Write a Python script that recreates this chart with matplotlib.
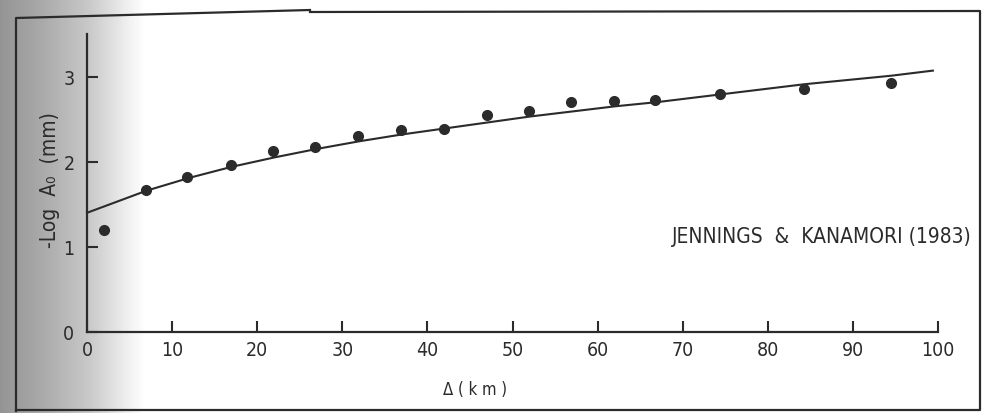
import numpy as np
import matplotlib
matplotlib.use("Agg")
import matplotlib.pyplot as plt

# ---- data ----
dist_points = [2.0, 6.9, 11.8, 16.9, 21.8, 26.8, 31.9, 36.9, 42.0, 47.0,
               51.9, 56.9, 61.9, 66.7, 74.4, 84.3, 94.5]
logA0_points = [1.20, 1.67, 1.82, 1.96, 2.12, 2.17, 2.30, 2.37, 2.39, 2.55,
                2.60, 2.70, 2.71, 2.72, 2.79, 2.85, 2.93]

curve_dist = [0, 7, 12, 17, 22, 27, 32, 37, 42, 47, 52, 57, 62, 67,
              74.4, 84.3, 94.5, 99.4]
curve_logA0 = [1.40, 1.66, 1.81, 1.94, 2.05, 2.15, 2.24, 2.32, 2.39,
               2.46, 2.53, 2.59, 2.65, 2.70, 2.79, 2.91, 3.01, 3.07]

x_ticks = [0, 10, 20, 30, 40, 50, 60, 70, 80, 90, 100]
y_ticks = [0, 1, 2, 3]
annotation = "JENNINGS  &  KANAMORI (1983)"
x_label = "Δ ( k m )"
y_label = "-Log  A₀  (mm)"

INK = "#2b2b2b"
plt.rcParams["font.family"] = ["DejaVu Sans"]
plt.rcParams["font.stretch"] = "condensed"

W, H = 984, 414
fig = plt.figure(figsize=(W / 100, H / 100), dpi=100)
fig.patch.set_facecolor("white")

# scanned-page grey shading on the left
bg = fig.add_axes([0, 0, 1, 1], zorder=-10)
xs = np.arange(W)
shade = np.interp(xs, [0, 40, 90, 125, 145], [0.58, 0.66, 0.79, 0.93, 1.0])
img = np.tile(shade, (H, 1))
bg.imshow(img, cmap="gray", vmin=0, vmax=1, extent=[0, W, H, 0], aspect="auto")
bg.set_xlim(0, W)
bg.set_ylim(H, 0)
bg.axis("off")

# outer frame of the figure panel
frame = fig.add_axes([0, 0, 1, 1], zorder=-5)
frame.set_xlim(0, W)
frame.set_ylim(H, 0)
frame.axis("off")
frame.patch.set_alpha(0)
frame.plot([16, 16, 310], [412, 19, 11], color=INK, lw=1.6)
frame.plot([310, 980, 980, 16], [13, 12, 411, 411], color=INK, lw=1.6)

# main axes
ax = fig.add_axes([87 / W, (H - 333) / H, (938 - 87) / W, (333 - 35) / H])
ax.set_facecolor("none")
ax.set_xlim(0, 100)
ax.set_ylim(0, 3.5)
for s in ["top", "right"]:
    ax.spines[s].set_visible(False)
for s in ["left", "bottom"]:
    ax.spines[s].set_color(INK)
    ax.spines[s].set_linewidth(1.6)

ax.plot(curve_dist, curve_logA0, color=INK, lw=1.5, clip_on=False)
ax.plot(dist_points, logA0_points, "o", color=INK, ms=7, clip_on=False)

ax.set_xticks(x_ticks)
ax.set_yticks(y_ticks)
ax.set_xticklabels([str(v) for v in x_ticks])
ax.set_yticklabels([str(v) for v in y_ticks])
ax.tick_params(axis="both", direction="in", length=8, width=1.5, color=INK,
               labelcolor=INK, labelsize=14)
ax.tick_params(axis="x", pad=6)
ax.tick_params(axis="y", pad=9)

ax.text((50 - 87) / 851, (333 - 180) / 298, y_label, rotation=90,
        transform=ax.transAxes, ha="center", va="center", fontsize=15,
        color=INK)
ax.text((475 - 87) / 851, (333 - 390) / 298, x_label,
        transform=ax.transAxes, ha="center", va="center", fontsize=12,
        color=INK)
ax.text(104.0, 1.13, annotation, ha="right", va="center", fontsize=15,
        color=INK, clip_on=False)

fig.savefig("out.png", dpi=100)
